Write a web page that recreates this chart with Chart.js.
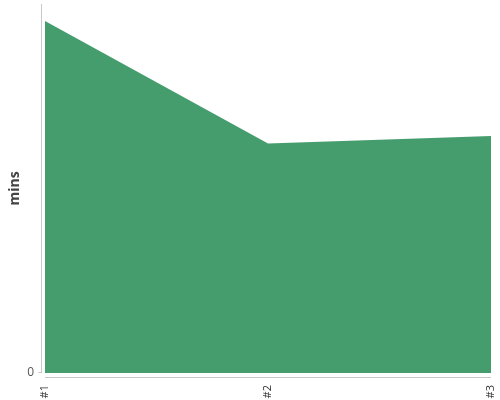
<!DOCTYPE html>
<html>
<head>
<meta charset="utf-8">
<script src="https://cdn.jsdelivr.net/npm/chart.js@4"></script>
<style>
  html, body { margin: 0; padding: 0; background: #fff; }
  #wrap { width: 500px; height: 400px; }
</style>
</head>
<body>
<div id="wrap"><canvas id="chart"></canvas></div>
<script>
const categories = ['#1', '#2', '#3'];
const minutes = [95.4, 62.2, 64.2];
const yMax = 100;
const yTicks = [0];

// axis lines sit a few px off the plot, like the original
const offsetAxes = {
  id: 'offsetAxes',
  afterDraw(chart) {
    const { ctx, chartArea } = chart;
    const yScale = chart.scales.y;
    const axisX = chartArea.left - 3.5;
    ctx.save();
    ctx.strokeStyle = '#c8c8c8';
    ctx.lineWidth = 1;
    ctx.beginPath();
    ctx.moveTo(axisX, chartArea.top);
    ctx.lineTo(axisX, chartArea.bottom);
    yTicks.forEach(v => {
      const py = Math.round(yScale.getPixelForValue(v)) - 0.5;
      ctx.moveTo(axisX - 3, py);
      ctx.lineTo(axisX, py);
    });
    ctx.moveTo(chartArea.left, chartArea.bottom + 4.5);
    ctx.lineTo(chartArea.right, chartArea.bottom + 4.5);
    ctx.stroke();
    ctx.restore();
  }
};

new Chart('chart', {
  type: 'line',
  data: {
    labels: categories,
    datasets: [{
      data: minutes,
      fill: 'origin',
      backgroundColor: '#459c6d',
      borderWidth: 0,
      pointRadius: 0,
      tension: 0
    }]
  },
  options: {
    responsive: true,
    maintainAspectRatio: false,
    animation: false,
    layout: { padding: { top: 4, right: 9, left: 0, bottom: 0 } },
    plugins: { legend: { display: false }, tooltip: { enabled: false } },
    scales: {
      x: {
        grid: { display: false, drawTicks: false },
        border: { display: false },
        ticks: {
          minRotation: 90,
          maxRotation: 90,
          padding: 12,
          color: '#333',
          font: { family: 'Open Sans', size: 11 }
        },
        afterFit(scale) {
          scale.height = 27;
          scale.paddingLeft = 0;
          scale.paddingRight = 0;
        }
      },
      y: {
        min: 0,
        max: yMax,
        grid: { display: false, drawTicks: false },
        border: { display: false },
        afterBuildTicks(scale) { scale.ticks = yTicks.map(v => ({ value: v })); },
        ticks: {
          padding: 11,
          color: '#555',
          font: { family: 'Open Sans', size: 12 }
        },
        title: {
          display: true,
          text: 'mins',
          color: '#444',
          padding: { top: 7, bottom: 0 },
          font: { family: 'Open Sans', size: 14, weight: 'bold' }
        },
        afterFit(scale) {
          scale.width = 45;
          scale.paddingTop = 0;
          scale.paddingBottom = 0;
        }
      }
    }
  },
  plugins: [offsetAxes]
});
</script>
</body>
</html>
